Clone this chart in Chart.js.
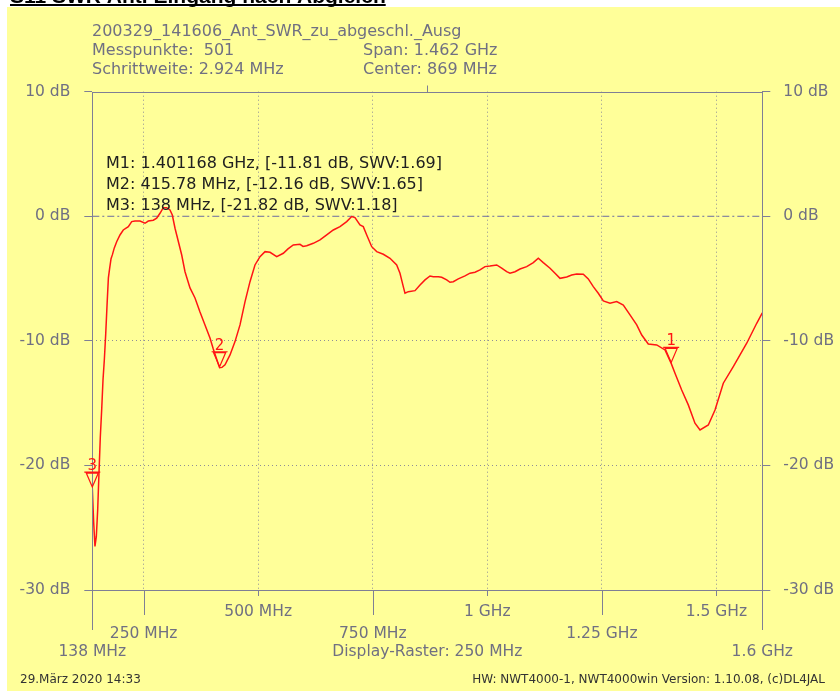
<!DOCTYPE html>
<html><head><meta charset="utf-8">
<script src="https://cdn.jsdelivr.net/npm/chart.js@4/dist/chart.umd.min.js"></script>
<style>html,body{margin:0;padding:0;background:#fff;overflow:hidden}canvas{display:block}</style>
</head><body>
<canvas id="c" width="840" height="691"></canvas>
<script>
// ---- data ----
const freqMHz = [138.0,140.9,143.8,146.8,149.7,152.6,155.5,158.5,161.4,164.3,167.2,170.2,173.1,176.0,178.9,181.9,
186.0,191.2,198.4,205.6,216.6,224.0,231.2,242.1,253.0,260.2,271.1,278.5,285.7,292.9,300.3,307.5,312.6,318.5,322.2,
333.1,340.3,351.2,362.1,373.0,383.9,394.8,402.0,412.9,415.8,421.0,427.6,438.5,449.4,460.3,471.3,482.1,493.0,503.9,
514.9,525.8,540.4,554.8,565.0,576.6,591.2,597.8,605.8,620.2,634.9,649.5,663.9,678.5,693.1,704.0,711.2,722.1,729.3,
736.8,747.7,758.6,773.0,787.6,802.2,809.4,816.6,820.3,827.5,842.2,853.1,864.0,874.9,882.1,893.0,900.4,911.3,918.5,
925.7,936.6,951.3,962.2,973.1,984.0,994.9,1005.8,1020.4,1031.3,1042.2,1049.5,1060.4,1071.3,1085.9,1100.3,1111.2,
1122.1,1136.8,1147.7,1158.6,1173.2,1184.1,1195.0,1209.4,1220.3,1231.2,1242.1,1253.1,1267.7,1282.3,1296.7,1311.3,
1326.0,1336.9,1351.2,1369.6,1387.7,1401.2,1409.5,1424.1,1438.5,1453.1,1464.1,1482.2,1496.8,1514.9,1536.7,1566.0,
1587.8,1600.0];
const returnLossDb = [-21.82,-24.5,-26.5,-25.7,-23.6,-20.6,-17.7,-15.5,-13.1,-11.5,-9.5,-7.1,-4.95,-4.15,-3.40,-3.08,
-2.54,-2.04,-1.50,-1.10,-0.83,-0.43,-0.38,-0.38,-0.56,-0.38,-0.32,-0.16,0.24,0.69,0.69,0.51,0.10,-0.96,-1.50,
-3.11,-4.45,-5.75,-6.56,-7.68,-8.72,-9.77,-10.65,-11.85,-12.16,-12.13,-11.93,-11.13,-10.06,-8.72,-6.85,-5.25,-3.91,-3.24,
-2.84,-2.89,-3.24,-2.97,-2.62,-2.30,-2.25,-2.42,-2.36,-2.17,-1.90,-1.50,-1.10,-0.83,-0.43,-0.02,-0.11,-0.70,-0.83,
-1.50,-2.44,-2.84,-3.05,-3.37,-3.91,-4.57,-5.65,-6.18,-6.05,-5.97,-5.51,-5.11,-4.79,-4.85,-4.85,-4.90,-5.11,-5.30,
-5.25,-5.03,-4.79,-4.57,-4.49,-4.31,-4.04,-3.99,-3.91,-4.17,-4.45,-4.57,-4.45,-4.23,-4.04,-3.72,-3.37,
-3.72,-4.17,-4.57,-4.98,-4.87,-4.71,-4.63,-4.65,-5.03,-5.65,-6.18,-6.80,-6.98,-6.85,-7.12,-7.92,
-8.72,-9.53,-10.25,-10.33,-10.73,-11.81,-12.60,-13.94,-15.14,-16.61,-17.15,-16.75,-15.55,-13.40,-12.07,-10.19,
-8.59,-7.76];

const markerNames = ['1','2','3'];
const markerFreqMHz = [1401.168, 415.78, 138];
const markerDb = [-11.81, -12.16, -21.82];
const markerSwr = ['1.69','1.65','1.18'];
const markerFreqText = ['1.401168 GHz','415.78 MHz','138 MHz'];

const yTicks = [-30,-20,-10,0,10];
const yGridDotted = [-20,-10];
const xGridTicks = [250,500,750,1000,1250,1500];
const xLabelTicks = [138,250,500,750,1000,1250,1500,1600];
const xLabelTexts = ['138 MHz','250 MHz','500 MHz','750 MHz','1 GHz','1.25 GHz','1.5 GHz','1.6 GHz'];
const xLabelRow = [2,1,0,1,0,1,0,2];
const centerMHz = 869;

const pageTitle = 'S11 SWR Ant. Eingang nach Abgleich';
const headerLeft = ['200329_141606_Ant_SWR_zu_abgeschl._Ausg','Messpunkte:  501','Schrittweite: 2.924 MHz'];
const headerRight = ['','Span: 1.462 GHz','Center: 869 MHz'];
const rasterText = 'Display-Raster: 250 MHz';
const footerLeft = '29.März 2020 14:33';
const footerRight = 'HW: NWT4000-1, NWT4000win Version: 1.10.08, (c)DL4JAL';

// ---- styles ----
const YELLOW = '#ffff99';
const FRAME = '#7f7f95';
const GRID = '#8e8e98';
const TXT = '#707082';
const FONT = "'DejaVu Sans', sans-serif";
const RED = '#ff1414';

const rowY = [612, 634, 652];
const rowTickEnd = [596, 615, 630];

const nwtPlugin = {
  id: 'nwt',
  beforeDraw(chart) {
    const c = chart.ctx;
    c.save();
    c.fillStyle = '#fff'; c.fillRect(0, 0, chart.width, chart.height);
    c.fillStyle = '#000'; c.font = "bold 21px 'Liberation Sans', Arial, sans-serif";
    c.textAlign = 'left'; c.textBaseline = 'alphabetic';
    c.fillText(pageTitle, 10, 3);
    const w = c.measureText(pageTitle).width;
    c.fillRect(10, 4, w, 2);
    c.fillStyle = YELLOW; c.fillRect(7, 7, chart.width - 7, chart.height - 7);
    // header
    c.fillStyle = TXT; c.font = '16px ' + FONT;
    const base = [36, 55, 74];
    headerLeft.forEach((t, i) => c.fillText(t, 92, base[i]));
    headerRight.forEach((t, i) => { if (t) c.fillText(t, 363, base[i]); });
    c.restore();
  },
  afterDatasetsDraw(chart) {
    const c = chart.ctx, ca = chart.chartArea;
    const xs = chart.scales.x, ys = chart.scales.y;
    c.save();
    // frame
    c.strokeStyle = FRAME; c.lineWidth = 1;
    const L = Math.round(ca.left) + 0.5, R = Math.round(ca.right) + 0.5;
    const T = Math.round(ca.top) + 0.5, B = Math.round(ca.bottom) + 0.5;
    c.strokeRect(L, T, R - L, B - T);
    // x ticks below the axis (staggered)
    c.beginPath();
    xLabelTicks.forEach((v, i) => {
      const px = Math.round(xs.getPixelForValue(v)) + 0.5;
      c.moveTo(px, B); c.lineTo(px, rowTickEnd[xLabelRow[i]]);
    });
    // center tick above the top
    const cx = Math.round(xs.getPixelForValue(centerMHz)) + 0.5;
    c.moveTo(cx, T - 7); c.lineTo(cx, T);
    c.stroke();
    // x labels
    c.fillStyle = TXT; c.font = '15.5px ' + FONT; c.textAlign = 'center'; c.textBaseline = 'middle';
    xLabelTicks.forEach((v, i) => c.fillText(xLabelTexts[i], xs.getPixelForValue(v), rowY[xLabelRow[i]]));
    c.fillText(rasterText, xs.getPixelForValue(centerMHz), rowY[2]);
    // markers
    c.strokeStyle = RED; c.fillStyle = RED; c.lineWidth = 1.2;
    markerFreqMHz.forEach((f, i) => {
      const px = xs.getPixelForValue(f), py = ys.getPixelForValue(markerDb[i]);
      c.beginPath();
      c.moveTo(px, py - 1); c.lineTo(px - 6, py - 15); c.lineTo(px + 6, py - 15); c.closePath();
      c.moveTo(px - 8, py - 16); c.lineTo(px + 8, py - 16);
      c.stroke();
      c.font = '15px ' + FONT; c.textAlign = 'center'; c.textBaseline = 'alphabetic';
      c.fillText(markerNames[i], px, py - 18);
    });
    // marker readout
    c.fillStyle = '#202020'; c.font = '16px ' + FONT; c.textAlign = 'left'; c.textBaseline = 'alphabetic';
    const mb = [168, 189, 210];
    markerFreqMHz.forEach((f, i) => {
      const t = 'M' + markerNames[i] + ': ' + markerFreqText[i] + ', [' + markerDb[i].toFixed(2) + ' dB, SWV:' + markerSwr[i] + ']';
      c.fillText(t, 106, mb[i]);
    });
    // footer
    c.fillStyle = '#333'; c.font = '12px ' + FONT; c.textBaseline = 'middle';
    c.textAlign = 'left'; c.fillText(footerLeft, 20, 680);
    c.textAlign = 'right'; c.fillText(footerRight, 825, 680);
    c.restore();
  }
};

const yAxisCommon = {
  type: 'linear', min: -30, max: 10,
  afterBuildTicks: s => { s.ticks = yTicks.map(v => ({value: v})); },
  ticks: { callback: v => v + ' dB', color: TXT, font: {family: "'DejaVu Sans', sans-serif", size: 15.5} },
  border: { display: false, dash: [1, 3] }
};

new Chart(document.getElementById('c'), {
  type: 'line',
  data: {
    datasets: [
      { data: freqMHz.map((f, i) => ({x: f, y: returnLossDb[i]})), borderColor: RED, borderWidth: 1.5,
        pointRadius: 0, tension: 0, fill: false },
      { data: [{x: xLabelTicks[0], y: 0}, {x: xLabelTicks[xLabelTicks.length - 1], y: 0}],
        borderColor: '#6b6ba0', borderWidth: 1, borderDash: [7, 3, 2, 3], pointRadius: 0, fill: false }
    ]
  },
  options: {
    responsive: false, animation: false, devicePixelRatio: 1,
    layout: { padding: { top: 91.7, bottom: 101, left: 0, right: 0 } },
    plugins: { legend: {display: false}, tooltip: {enabled: false} },
    scales: {
      x: {
        type: 'linear', min: 138, max: 1600,
        afterBuildTicks: s => { s.ticks = xGridTicks.map(v => ({value: v})); },
        ticks: { display: false },
        grid: { color: GRID, drawTicks: false },
        border: { display: false, dash: [1, 3] },
        afterFit: s => { s.height = 0; }
      },
      y: Object.assign({}, yAxisCommon, {
        position: 'left',
        ticks: Object.assign({}, yAxisCommon.ticks, {padding: 14}),
        grid: { color: c => (c.tick && yGridDotted.includes(c.tick.value)) ? GRID : 'rgba(0,0,0,0)',
                tickColor: FRAME, tickLength: 8, drawTicks: true },
        afterFit: s => { s.width = 92.3; }
      }),
      y2: Object.assign({}, yAxisCommon, {
        position: 'right',
        ticks: Object.assign({}, yAxisCommon.ticks, {padding: 13}),
        grid: { drawOnChartArea: false, tickColor: FRAME, tickLength: 8, drawTicks: true },
        afterFit: s => { s.width = 77.7; }
      })
    }
  },
  plugins: [nwtPlugin]
});
</script>
</body></html>
